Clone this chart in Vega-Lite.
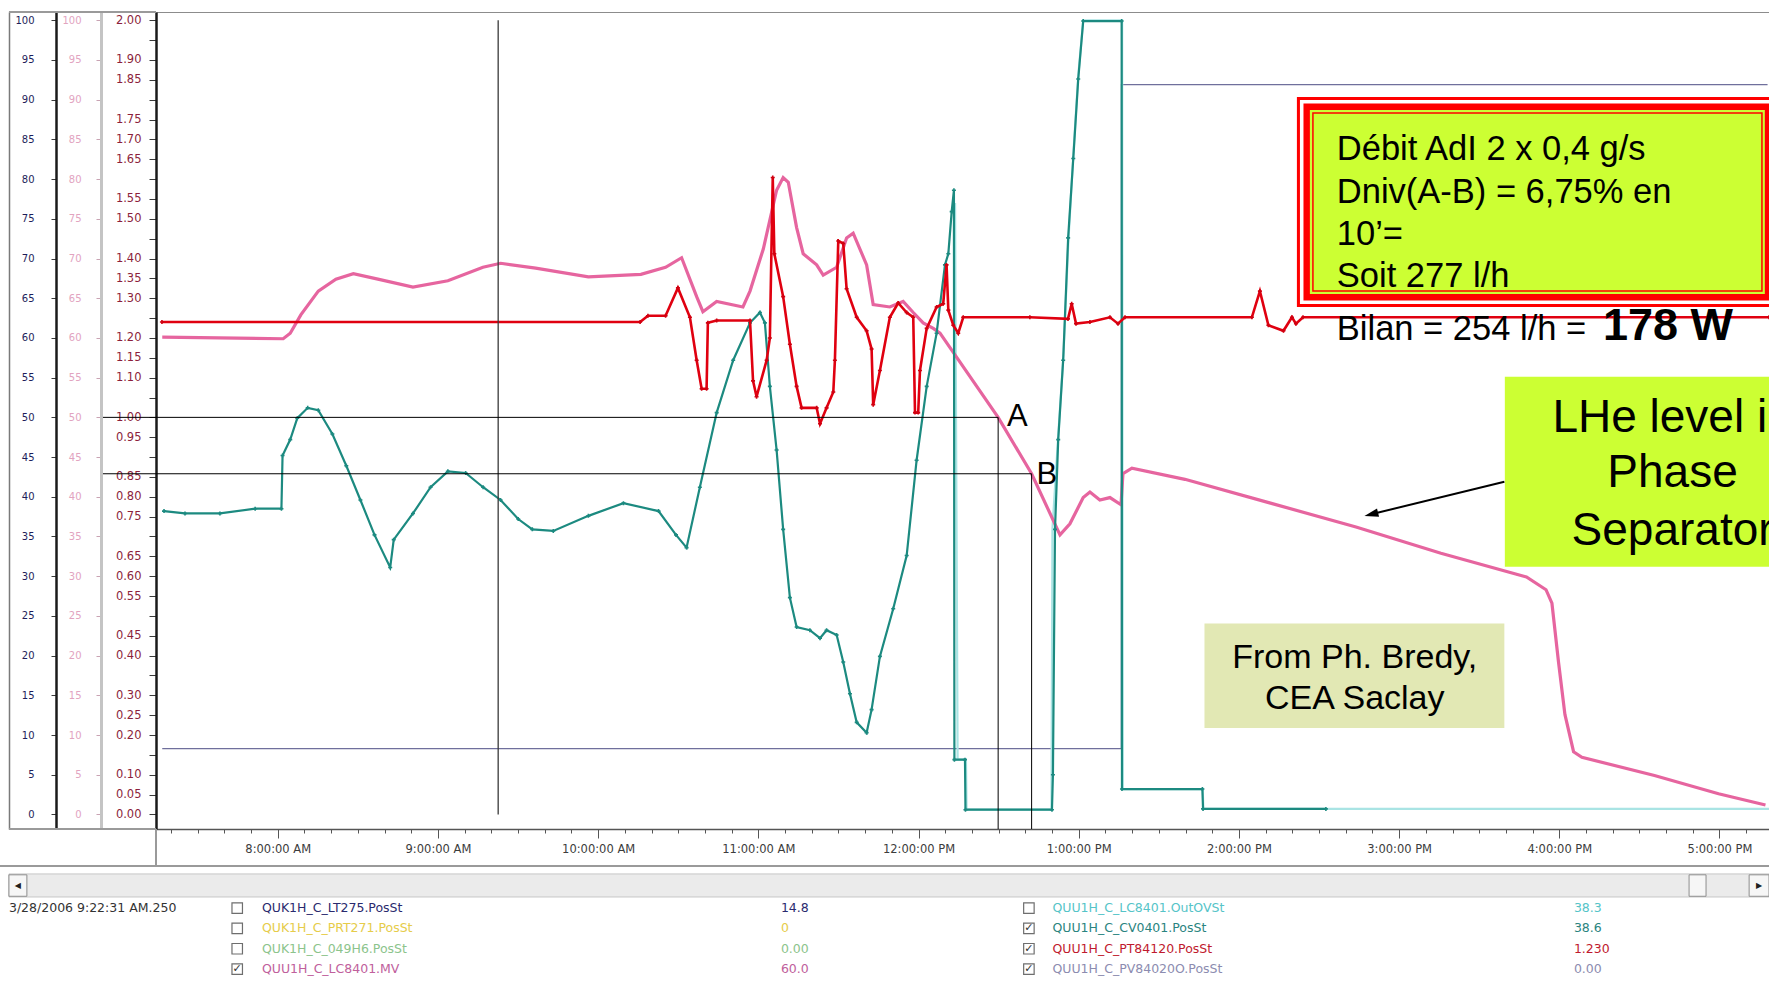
{
  "$schema": "https://vega.github.io/schema/vega-lite/v6.json",
  "usermeta": {"embedOptions": {"actions": false}},
  "width": 1613,
  "height": 817,
  "autosize": {"type": "none"},
  "padding": {"left": 156, "top": 12, "right": 0, "bottom": 158},
  "background": "#ffffff",
  "config": {"view": {"stroke": "#8c8c8c"}, "axis": {"grid": false}},
  "datasets": {
    "series": [
      {"s":"pink","t":7.279,"v":60.1},{"s":"pink","t":8.034,"v":59.9},{"s":"pink","t":8.078,"v":60.6},{"s":"pink","t":8.144,"v":62.9},{"s":"pink","t":8.253,"v":65.9},{"s":"pink","t":8.363,"v":67.4},{"s":"pink","t":8.472,"v":68.1},{"s":"pink","t":8.625,"v":67.4},{"s":"pink","t":8.844,"v":66.4},{"s":"pink","t":9.062,"v":67.2},{"s":"pink","t":9.281,"v":68.9},{"s":"pink","t":9.391,"v":69.4},{"s":"pink","t":9.61,"v":68.8},{"s":"pink","t":9.939,"v":67.7},{"s":"pink","t":10.267,"v":68.0},{"s":"pink","t":10.421,"v":68.9},{"s":"pink","t":10.521,"v":70.1},{"s":"pink","t":10.615,"v":65.2},{"s":"pink","t":10.654,"v":63.3},{"s":"pink","t":10.74,"v":64.6},{"s":"pink","t":10.904,"v":63.9},{"s":"pink","t":10.948,"v":65.9},{"s":"pink","t":11.031,"v":71.2},{"s":"pink","t":11.114,"v":78.6},{"s":"pink","t":11.155,"v":80.2},{"s":"pink","t":11.187,"v":79.6},{"s":"pink","t":11.239,"v":73.9},{"s":"pink","t":11.28,"v":70.6},{"s":"pink","t":11.364,"v":69.2},{"s":"pink","t":11.405,"v":67.9},{"s":"pink","t":11.489,"v":68.9},{"s":"pink","t":11.551,"v":72.6},{"s":"pink","t":11.592,"v":73.2},{"s":"pink","t":11.676,"v":69.2},{"s":"pink","t":11.717,"v":64.2},{"s":"pink","t":11.821,"v":63.9},{"s":"pink","t":11.904,"v":64.6},{"s":"pink","t":11.967,"v":63.2},{"s":"pink","t":12.029,"v":61.9},{"s":"pink","t":12.092,"v":61.2},{"s":"pink","t":12.134,"v":60.6},{"s":"pink","t":12.497,"v":50.0},{"s":"pink","t":12.706,"v":42.9},{"s":"pink","t":12.883,"v":35.2},{"s":"pink","t":12.945,"v":36.6},{"s":"pink","t":13.028,"v":39.9},{"s":"pink","t":13.07,"v":40.6},{"s":"pink","t":13.132,"v":39.6},{"s":"pink","t":13.195,"v":39.9},{"s":"pink","t":13.264,"v":39.0},{"s":"pink","t":13.276,"v":42.9},{"s":"pink","t":13.332,"v":43.6},{"s":"pink","t":13.663,"v":42.2},{"s":"pink","t":14.197,"v":39.2},{"s":"pink","t":14.731,"v":36.2},{"s":"pink","t":15.261,"v":32.9},{"s":"pink","t":15.795,"v":29.9},{"s":"pink","t":15.917,"v":28.3},{"s":"pink","t":15.954,"v":26.6},{"s":"pink","t":15.995,"v":19.2},{"s":"pink","t":16.035,"v":12.6},{"s":"pink","t":16.089,"v":7.9},{"s":"pink","t":16.141,"v":7.2},{"s":"pink","t":16.594,"v":4.9},{"s":"pink","t":16.994,"v":2.6},{"s":"pink","t":17.287,"v":1.2},

      {"s":"red","t":7.277,"v":62.0},{"s":"red","t":10.262,"v":62.0},{"s":"red","t":10.311,"v":62.8},{"s":"red","t":10.421,"v":62.8},{"s":"red","t":10.498,"v":66.3},{"s":"red","t":10.573,"v":62.6},{"s":"red","t":10.615,"v":57.2},{"s":"red","t":10.646,"v":53.6},{"s":"red","t":10.677,"v":53.6},{"s":"red","t":10.685,"v":61.9},{"s":"red","t":10.74,"v":62.2},{"s":"red","t":10.948,"v":62.2},{"s":"red","t":10.967,"v":54.6},{"s":"red","t":10.989,"v":52.6},{"s":"red","t":11.052,"v":57.2},{"s":"red","t":11.072,"v":60.0},{"s":"red","t":11.09,"v":80.2},{"s":"red","t":11.1,"v":70.6},{"s":"red","t":11.155,"v":65.2},{"s":"red","t":11.197,"v":59.2},{"s":"red","t":11.239,"v":53.9},{"s":"red","t":11.27,"v":51.2},{"s":"red","t":11.364,"v":51.2},{"s":"red","t":11.385,"v":49.2},{"s":"red","t":11.426,"v":51.2},{"s":"red","t":11.468,"v":53.2},{"s":"red","t":11.478,"v":57.2},{"s":"red","t":11.499,"v":72.2},{"s":"red","t":11.53,"v":71.9},{"s":"red","t":11.551,"v":66.2},{"s":"red","t":11.614,"v":62.6},{"s":"red","t":11.676,"v":60.9},{"s":"red","t":11.707,"v":58.6},{"s":"red","t":11.717,"v":51.6},{"s":"red","t":11.759,"v":55.9},{"s":"red","t":11.821,"v":62.6},{"s":"red","t":11.873,"v":64.4},{"s":"red","t":11.926,"v":63.2},{"s":"red","t":11.967,"v":62.6},{"s":"red","t":11.978,"v":50.6},{"s":"red","t":11.998,"v":50.6},{"s":"red","t":12.009,"v":55.9},{"s":"red","t":12.051,"v":61.2},{"s":"red","t":12.113,"v":63.9},{"s":"red","t":12.154,"v":64.3},{"s":"red","t":12.175,"v":69.2},{"s":"red","t":12.186,"v":63.5},{"s":"red","t":12.217,"v":61.6},{"s":"red","t":12.248,"v":60.6},{"s":"red","t":12.279,"v":62.6},{"s":"red","t":12.695,"v":62.6},{"s":"red","t":12.933,"v":62.4},{"s":"red","t":12.956,"v":64.3},{"s":"red","t":12.983,"v":61.8},{"s":"red","t":13.07,"v":62.0},{"s":"red","t":13.195,"v":62.6},{"s":"red","t":13.245,"v":61.8},{"s":"red","t":13.289,"v":62.6},{"s":"red","t":14.081,"v":62.6},{"s":"red","t":14.131,"v":65.9},{"s":"red","t":14.184,"v":61.6},{"s":"red","t":14.278,"v":60.9},{"s":"red","t":14.331,"v":62.6},{"s":"red","t":14.356,"v":61.8},{"s":"red","t":14.4,"v":62.6},{"s":"red","t":17.309,"v":62.6},

      {"s":"teal","t":7.29,"v":38.2},{"s":"teal","t":7.421,"v":37.9},{"s":"teal","t":7.639,"v":37.9},{"s":"teal","t":7.859,"v":38.5},{"s":"teal","t":8.023,"v":38.5},{"s":"teal","t":8.03,"v":45.2},{"s":"teal","t":8.078,"v":47.2},{"s":"teal","t":8.122,"v":49.9},{"s":"teal","t":8.187,"v":51.2},{"s":"teal","t":8.253,"v":50.9},{"s":"teal","t":8.341,"v":47.9},{"s":"teal","t":8.428,"v":43.9},{"s":"teal","t":8.516,"v":39.6},{"s":"teal","t":8.604,"v":35.2},{"s":"teal","t":8.702,"v":31.1},{"s":"teal","t":8.724,"v":34.6},{"s":"teal","t":8.844,"v":37.9},{"s":"teal","t":8.954,"v":41.2},{"s":"teal","t":9.062,"v":43.2},{"s":"teal","t":9.173,"v":43.0},{"s":"teal","t":9.282,"v":41.2},{"s":"teal","t":9.391,"v":39.6},{"s":"teal","t":9.501,"v":37.2},{"s":"teal","t":9.589,"v":35.9},{"s":"teal","t":9.72,"v":35.7},{"s":"teal","t":9.939,"v":37.6},{"s":"teal","t":10.158,"v":39.2},{"s":"teal","t":10.377,"v":38.2},{"s":"teal","t":10.486,"v":35.2},{"s":"teal","t":10.552,"v":33.6},{"s":"teal","t":10.635,"v":41.2},{"s":"teal","t":10.74,"v":50.6},{"s":"teal","t":10.843,"v":57.2},{"s":"teal","t":10.948,"v":61.9},{"s":"teal","t":11.01,"v":63.2},{"s":"teal","t":11.041,"v":61.9},{"s":"teal","t":11.072,"v":53.9},{"s":"teal","t":11.114,"v":45.9},{"s":"teal","t":11.155,"v":35.9},{"s":"teal","t":11.197,"v":27.3},{"s":"teal","t":11.239,"v":23.6},{"s":"teal","t":11.322,"v":23.2},{"s":"teal","t":11.385,"v":22.2},{"s":"teal","t":11.426,"v":23.2},{"s":"teal","t":11.489,"v":22.6},{"s":"teal","t":11.53,"v":19.2},{"s":"teal","t":11.572,"v":15.2},{"s":"teal","t":11.614,"v":11.6},{"s":"teal","t":11.676,"v":10.3},{"s":"teal","t":11.707,"v":13.2},{"s":"teal","t":11.759,"v":19.9},{"s":"teal","t":11.842,"v":25.9},{"s":"teal","t":11.926,"v":32.6},{"s":"teal","t":11.988,"v":44.6},{"s":"teal","t":12.051,"v":53.9},{"s":"teal","t":12.113,"v":60.6},{"s":"teal","t":12.165,"v":69.2},{"s":"teal","t":12.186,"v":70.6},{"s":"teal","t":12.207,"v":75.9},{"s":"teal","t":12.221,"v":78.6},{"s":"teal","t":12.224,"v":6.9},{"s":"teal","t":12.29,"v":6.9},{"s":"teal","t":12.293,"v":0.6},{"s":"teal","t":12.833,"v":0.6},{"s":"teal","t":12.839,"v":5.0},{"s":"teal","t":12.852,"v":35.9},{"s":"teal","t":12.872,"v":47.2},{"s":"teal","t":12.903,"v":57.2},{"s":"teal","t":12.934,"v":72.6},{"s":"teal","t":12.966,"v":82.6},{"s":"teal","t":12.997,"v":92.6},{"s":"teal","t":13.028,"v":99.9},{"s":"teal","t":13.268,"v":99.9},{"s":"teal","t":13.27,"v":3.2},{"s":"teal","t":13.772,"v":3.2},{"s":"teal","t":13.776,"v":0.7},{"s":"teal","t":14.543,"v":0.7},

      {"s":"cyan","t":12.228,"v":77},{"s":"cyan","t":12.244,"v":6.9},{"s":"cyan","t":12.296,"v":6.9},{"s":"cyan","t":12.3,"v":0.6},{"s":"cyan","t":12.83,"v":0.6},{"s":"cyan","t":12.836,"v":36},{"s":"cyan","t":12.87,"v":47},{"s":"cyan","t":12.905,"v":58},{"s":"cyan","t":12.935,"v":72},{"s":"cyan","t":12.966,"v":83},{"s":"cyan","t":12.997,"v":93},{"s":"cyan","t":13.028,"v":100},{"s":"cyan","t":13.271,"v":100},{"s":"cyan","t":13.275,"v":3.2},{"s":"cyan","t":13.774,"v":3.2},{"s":"cyan","t":13.778,"v":0.7},{"s":"cyan","t":17.309,"v":0.7},

      {"s":"slate","t":7.279,"v":8.3},{"s":"slate","t":13.266,"v":8.3},{"s":"slate","t":13.267,"v":91.9},{"s":"slate","t":17.3,"v":91.9}
    ]
  },
  "resolve": {"scale": {"y": "independent"}},
  "layer": [
    {
      "data": {"values": [{"v": 0}]},
      "mark": {"type": "point", "opacity": 0},
      "encoding": {
        "y": {"field": "v", "type": "quantitative",
          "scale": {"domain": [-1.83, 101.04], "nice": false, "zero": false},
          "axis": {"orient": "left", "offset": 147, "labels": false, "ticks": false, "domainColor": "#7a7a7a", "domainWidth": 1.5, "title": null}}
      }
    },
    {
      "data": {"values": [{"v": 0}]},
      "mark": {"type": "point", "opacity": 0},
      "encoding": {
        "y": {"field": "v", "type": "quantitative",
          "scale": {"domain": [-1.83, 101.04], "nice": false, "zero": false},
          "axis": {"orient": "left", "offset": 100, "values": [0,5,10,15,20,25,30,35,40,45,50,55,60,65,70,75,80,85,90,95,100], "format": "d",
            "labelFont": "DejaVu Sans", "labelFontSize": 10, "labelColor": "#1e1e5a", "tickColor": "#3a3a3a", "tickSize": 5, "labelPadding": 17,
            "domainColor": "#1a1a1a", "domainWidth": 2.5, "labelOverlap": false, "title": null}}
      }
    },
    {
      "data": {"values": [{"v": 0}]},
      "mark": {"type": "point", "opacity": 0},
      "encoding": {
        "y": {"field": "v", "type": "quantitative",
          "scale": {"domain": [-1.83, 101.04], "nice": false, "zero": false},
          "axis": {"orient": "left", "offset": 55, "values": [0,5,10,15,20,25,30,35,40,45,50,55,60,65,70,75,80,85,90,95,100], "format": "d",
            "labelFont": "DejaVu Sans", "labelFontSize": 10, "labelColor": "#e2a4bf", "tickColor": "#c9a3b3", "tickSize": 5, "labelPadding": 15,
            "domainColor": "#c4c4c4", "domainWidth": 3, "labelOverlap": false, "title": null}}
      }
    },
    {
      "encoding": {
        "x": {"field": "t", "type": "quantitative",
          "scale": {"domain": [7.24, 17.309], "nice": false, "zero": false},
          "axis": {
            "values": [7.3333,7.5,7.6667,7.8333,8,8.1667,8.3333,8.5,8.6667,8.8333,9,9.1667,9.3333,9.5,9.6667,9.8333,10,10.1667,10.3333,10.5,10.6667,10.8333,11,11.1667,11.3333,11.5,11.6667,11.8333,12,12.1667,12.3333,12.5,12.6667,12.8333,13,13.1667,13.3333,13.5,13.6667,13.8333,14,14.1667,14.3333,14.5,14.6667,14.8333,15,15.1667,15.3333,15.5,15.6667,15.8333,16,16.1667,16.3333,16.5,16.6667,16.8333,17,17.1667],
            "labelExpr": "abs(datum.value - round(datum.value)) < 0.01 ? ((round(datum.value) == 12 ? '12' : '' + (round(datum.value) % 12)) + ':00:00 ' + (round(datum.value) < 12 ? 'AM' : 'PM')) : ''",
            "tickSize": {"condition": {"test": "abs(datum.value - round(datum.value)) < 0.01", "value": 9}, "value": 4},
            "labelFont": "DejaVu Sans", "labelFontSize": 11.5, "labelColor": "#3c3c3c", "labelPadding": 5,
            "tickColor": "#555555", "domainColor": "#555555", "domainWidth": 1.5,
            "labelFlush": false, "labelOverlap": false, "title": null}},
        "y": {"field": "v", "type": "quantitative",
          "scale": {"domain": [-1.83, 101.04], "nice": false, "zero": false},
          "axis": {"orient": "left", "offset": 0,
            "values": [0,2.5,5,7.5,10,12.5,15,17.5,20,22.5,25,27.5,30,32.5,35,37.5,40,42.5,45,47.5,50,52.5,55,57.5,60,62.5,65,67.5,70,72.5,75,77.5,80,82.5,85,87.5,90,92.5,95,97.5,100],
            "labelExpr": "indexof([195,180,160,145,125,105,90,70,50,35,15], round(datum.value * 2)) >= 0 ? '' : format(datum.value / 50, '.2f')",
            "labelFont": "DejaVu Sans", "labelFontSize": 11.5, "labelColor": "#8c1f3c", "tickColor": "#3a3a3a", "tickSize": 7, "labelPadding": 8,
            "domainColor": "#1a1a1a", "domainWidth": 2.5, "labelOverlap": false, "title": null}}
      },
      "layer": [
        {
          "data": {"values": [{"t": 6.322, "t2": 17.309, "v": -7.49, "v2": -10.39}]},
          "mark": {"type": "rect", "fill": "#ebebeb", "stroke": "#c6c6c6", "strokeWidth": 1},
          "encoding": {"x2": {"field": "t2"}, "y2": {"field": "v2"}}
        },
        {
          "data": {"values": [
            {"t": 6.322, "t2": 6.434, "v": -7.6, "v2": -10.3},
            {"t": 16.81, "t2": 16.916, "v": -7.6, "v2": -10.3},
            {"t": 17.185, "t2": 17.309, "v": -7.6, "v2": -10.3}
          ]},
          "mark": {"type": "rect", "fill": "#f6f6f6", "stroke": "#8e8e8e", "strokeWidth": 1},
          "encoding": {"x2": {"field": "t2"}, "y2": {"field": "v2"}}
        },
        {
          "data": {"values": [{"t": 6.378, "v": -8.95, "txt": "◀"}, {"t": 17.247, "v": -8.95, "txt": "▶"}]},
          "mark": {"type": "text", "font": "DejaVu Sans", "fontSize": 8, "color": "#202020", "align": "center", "baseline": "middle"},
          "encoding": {"text": {"field": "txt"}}
        },
        {
          "data": {"values": [
            {"t": 6.266, "t2": 17.309, "v": -6.5, "v2": -6.5},
            {"t": 7.24, "t2": 7.24, "v": -1.83, "v2": -6.5},
            {"t": 6.322, "t2": 7.24, "v": -1.83, "v2": -1.83},
            {"t": 6.322, "t2": 7.24, "v": 101.04, "v2": 101.04}
          ]},
          "mark": {"type": "rule", "color": "#9a9a9a", "strokeWidth": 2},
          "encoding": {"x2": {"field": "t2"}, "y2": {"field": "v2"}}
        },
        {
          "data": {"name": "series"},
          "transform": [{"filter": "datum.s == 'slate'"}],
          "mark": {"type": "line", "color": "#6f6f9c", "strokeWidth": 1.3},
          "encoding": {}
        },
        {
          "data": {"name": "series"},
          "transform": [{"filter": "datum.s == 'cyan'"}],
          "mark": {"type": "line", "color": "#a9e4e4", "strokeWidth": 2.2},
          "encoding": {}
        },
        {
          "data": {"name": "series"},
          "transform": [{"filter": "datum.s == 'pink'"}],
          "mark": {"type": "line", "color": "#e6659f", "strokeWidth": 3.2},
          "encoding": {}
        },
        {
          "data": {"name": "series"},
          "transform": [{"filter": "datum.s == 'teal'"}],
          "mark": {"type": "line", "color": "#1c8a80", "strokeWidth": 2.2, "point": {"shape": "cross", "size": 16, "filled": true, "color": "#1c8a80"}},
          "encoding": {}
        },
        {
          "data": {"name": "series"},
          "transform": [{"filter": "datum.s == 'red'"}],
          "mark": {"type": "line", "color": "#e00010", "strokeWidth": 2.6, "point": {"shape": "cross", "size": 16, "filled": true, "color": "#d00010"}},
          "encoding": {}
        },
        {
          "data": {"values": [{"t": 9.376, "t2": 9.376, "v": 100, "v2": 0}]},
          "mark": {"type": "rule", "color": "#3a3a3a", "strokeWidth": 1.3},
          "encoding": {"x2": {"field": "t2"}, "y2": {"field": "v2"}}
        },
        {
          "data": {"values": [
            {"t": 6.909, "t2": 12.497, "v": 50, "v2": 50},
            {"t": 12.497, "t2": 12.497, "v": 50, "v2": -1.83},
            {"t": 6.909, "t2": 12.706, "v": 42.9, "v2": 42.9},
            {"t": 12.706, "t2": 12.706, "v": 42.9, "v2": -1.83}
          ]},
          "mark": {"type": "rule", "color": "#000000", "strokeWidth": 1},
          "encoding": {"x2": {"field": "t2"}, "y2": {"field": "v2"}}
        },
        {
          "data": {"values": [{"t": 12.552, "v": 48.92, "txt": "A"}, {"t": 12.737, "v": 41.56, "txt": "B"}]},
          "mark": {"type": "text", "font": "Liberation Sans", "fontSize": 31, "color": "#000000", "align": "left", "baseline": "alphabetic"},
          "encoding": {"text": {"field": "txt"}}
        },
        {
          "data": {"values": [{"t": 14.362, "t2": 17.365, "v": 90.34, "v2": 63.9}]},
          "mark": {"type": "rect", "fill": "#ff0000"},
          "encoding": {"x2": {"field": "t2"}, "y2": {"field": "v2"}}
        },
        {
          "data": {"values": [{"t": 14.381, "t2": 17.346, "v": 89.96, "v2": 64.28}]},
          "mark": {"type": "rect", "fill": "#ffffff"},
          "encoding": {"x2": {"field": "t2"}, "y2": {"field": "v2"}}
        },
        {
          "data": {"values": [{"t": 14.403, "t2": 17.324, "v": 89.52, "v2": 64.72}]},
          "mark": {"type": "rect", "fill": "#ff0000"},
          "encoding": {"x2": {"field": "t2"}, "y2": {"field": "v2"}}
        },
        {
          "data": {"values": [{"t": 14.443, "t2": 17.283, "v": 88.7, "v2": 65.54}]},
          "mark": {"type": "rect", "fill": "#ccff33"},
          "encoding": {"x2": {"field": "t2"}, "y2": {"field": "v2"}}
        },
        {
          "data": {"values": [{"t": 14.462, "t2": 17.265, "v": 88.32, "v2": 65.92}]},
          "mark": {"type": "rect", "filled": false, "stroke": "#ff0000", "strokeWidth": 1.5},
          "encoding": {"x2": {"field": "t2"}, "y2": {"field": "v2"}}
        },
        {
          "data": {"values": [{"t": 15.66, "t2": 17.9, "v": 55.12, "v2": 31.2}]},
          "mark": {"type": "rect", "fill": "#ccff33"},
          "encoding": {"x2": {"field": "t2"}, "y2": {"field": "v2"}}
        },
        {
          "data": {"values": [{"t": 13.785, "t2": 15.657, "v": 24.04, "v2": 10.9}]},
          "mark": {"type": "rect", "fill": "#e2e8b4"},
          "encoding": {"x2": {"field": "t2"}, "y2": {"field": "v2"}}
        },
        {
          "data": {"values": [
            {"t": 14.611, "v": 82.41, "txt": "Débit AdI 2 x 0,4 g/s"},
            {"t": 14.611, "v": 76.97, "txt": "Dniv(A-B) = 6,75% en"},
            {"t": 14.611, "v": 71.71, "txt": "10’="},
            {"t": 14.611, "v": 66.46, "txt": "Soit 277 l/h"},
            {"t": 14.611, "v": 59.75, "txt": "Bilan = 254 l/h ="}
          ]},
          "mark": {"type": "text", "font": "Liberation Sans", "fontSize": 34.5, "color": "#000000", "align": "left", "baseline": "alphabetic"},
          "encoding": {"text": {"field": "txt"}}
        },
        {
          "data": {"values": [{"t": 16.272, "v": 59.75, "txt": "178 W"}]},
          "mark": {"type": "text", "font": "Liberation Sans", "fontSize": 45, "fontWeight": "bold", "color": "#000000", "align": "left", "baseline": "alphabetic"},
          "encoding": {"text": {"field": "txt"}}
        },
        {
          "data": {"values": [
            {"t": 16.707, "v": 48.2, "txt": "LHe level in"},
            {"t": 16.707, "v": 41.24, "txt": "Phase"},
            {"t": 16.707, "v": 33.93, "txt": "Separator"}
          ]},
          "mark": {"type": "text", "font": "Liberation Sans", "fontSize": 46, "color": "#000000", "align": "center", "baseline": "alphabetic"},
          "encoding": {"text": {"field": "txt"}}
        },
        {
          "data": {"values": [
            {"t": 14.723, "v": 18.45, "txt": "From Ph. Bredy,"},
            {"t": 14.723, "v": 13.23, "txt": "CEA Saclay"}
          ]},
          "mark": {"type": "text", "font": "Liberation Sans", "fontSize": 34, "color": "#000000", "align": "center", "baseline": "alphabetic"},
          "encoding": {"text": {"field": "txt"}}
        },
        {
          "data": {"values": [{"t": 15.657, "t2": 14.826, "v": 41.9, "v2": 37.8}]},
          "mark": {"type": "rule", "color": "#000000", "strokeWidth": 2},
          "encoding": {"x2": {"field": "t2"}, "y2": {"field": "v2"}}
        },
        {
          "data": {"values": [{"t": 14.826, "v": 37.8}]},
          "mark": {"type": "point", "shape": "M-1,0L1,-0.6L1,0.6Z", "size": 196, "filled": true, "color": "#000000", "opacity": 1, "angle": -13.8},
          "encoding": {}
        },
        {
          "data": {"values": [{"t": 6.322, "v": -11.8, "txt": "3/28/2006 9:22:31 AM.250"}]},
          "mark": {"type": "text", "font": "DejaVu Sans", "fontSize": 12.5, "color": "#333333", "align": "left", "baseline": "middle"},
          "encoding": {"text": {"field": "txt"}}
        },
        {
          "data": {"values": [
            {"t": 7.747, "v": -11.8, "on": false}, {"t": 7.747, "v": -14.35, "on": false}, {"t": 7.747, "v": -16.91, "on": false}, {"t": 7.747, "v": -19.47, "on": true},
            {"t": 12.689, "v": -11.8, "on": false}, {"t": 12.689, "v": -14.35, "on": true}, {"t": 12.689, "v": -16.91, "on": true}, {"t": 12.689, "v": -19.47, "on": true}
          ]},
          "layer": [
            {
              "mark": {"type": "point", "shape": "square", "size": 110, "filled": false, "stroke": "#6e6e6e", "strokeWidth": 1.2, "opacity": 1},
              "encoding": {}
            },
            {
              "transform": [{"filter": "datum.on"}],
              "mark": {"type": "text", "text": "✓", "font": "DejaVu Sans", "fontSize": 11, "color": "#303030", "align": "center", "baseline": "middle"},
              "encoding": {}
            }
          ]
        },
        {
          "data": {"values": [
            {"t": 7.901, "v": -11.8, "txt": "QUK1H_C_LT275.PosSt", "s": "LT275"},
            {"t": 7.901, "v": -14.35, "txt": "QUK1H_C_PRT271.PosSt", "s": "PRT271"},
            {"t": 7.901, "v": -16.91, "txt": "QUK1H_C_049H6.PosSt", "s": "049H6"},
            {"t": 7.901, "v": -19.47, "txt": "QUU1H_C_LC8401.MV", "s": "LC8401"},
            {"t": 12.836, "v": -11.8, "txt": "QUU1H_C_LC8401.OutOVSt", "s": "OutOVSt"},
            {"t": 12.836, "v": -14.35, "txt": "QUU1H_C_CV0401.PosSt", "s": "CV0401"},
            {"t": 12.836, "v": -16.91, "txt": "QUU1H_C_PT84120.PosSt", "s": "PT84120"},
            {"t": 12.836, "v": -19.47, "txt": "QUU1H_C_PV84020O.PosSt", "s": "PV84020O"},
            {"t": 11.141, "v": -11.8, "txt": "14.8", "s": "LT275"},
            {"t": 11.141, "v": -14.35, "txt": "0", "s": "PRT271"},
            {"t": 11.141, "v": -16.91, "txt": "0.00", "s": "049H6"},
            {"t": 11.141, "v": -19.47, "txt": "60.0", "s": "LC8401"},
            {"t": 16.091, "v": -11.8, "txt": "38.3", "s": "OutOVSt"},
            {"t": 16.091, "v": -14.35, "txt": "38.6", "s": "CV0401"},
            {"t": 16.091, "v": -16.91, "txt": "1.230", "s": "PT84120"},
            {"t": 16.091, "v": -19.47, "txt": "0.00", "s": "PV84020O"}
          ]},
          "mark": {"type": "text", "font": "DejaVu Sans", "fontSize": 12.5, "align": "left", "baseline": "middle"},
          "encoding": {
            "text": {"field": "txt"},
            "color": {"field": "s", "type": "nominal",
              "scale": {"domain": ["LT275","PRT271","049H6","LC8401","OutOVSt","CV0401","PT84120","PV84020O"],
                        "range": ["#2a2a6e","#e6cc4a","#8cc48c","#c0609c","#55c4c8","#2a8480","#bf1a2e","#8c8cb0"]},
              "legend": null}
          }
        }
      ]
    }
  ]
}
